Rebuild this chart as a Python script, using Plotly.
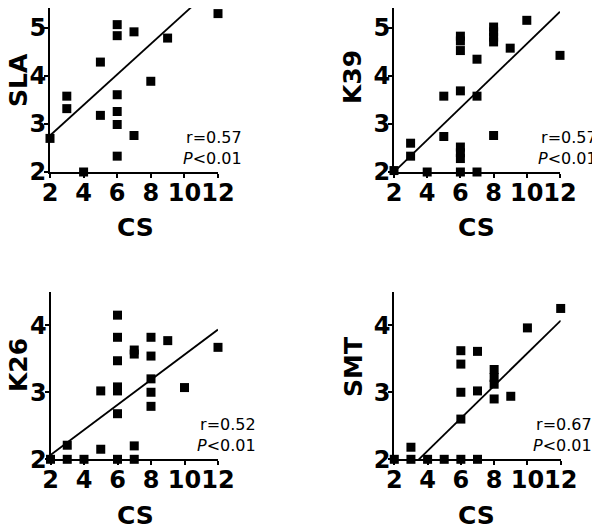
import plotly.graph_objects as go

# ---------------- data ----------------
SLA_x = [2, 3, 3, 4, 5, 5, 6, 6, 6, 6, 6, 6, 6, 7, 7, 8, 8, 8, 9, 10, 12]
SLA_y = [2.70, 3.58, 3.32, 2.00, 4.29, 3.18, 5.49, 5.07, 4.84, 3.61, 3.26, 2.99, 2.33,
         4.92, 2.76, 5.49, 5.43, 3.89, 4.79, 5.49, 5.30]

K39_x = [2, 3, 3, 4, 5, 5, 6, 6, 6, 6, 6, 6, 6, 6, 7, 7, 7, 8, 8, 8, 8, 8, 8, 9, 10, 12]
K39_y = [2.03, 2.60, 2.33, 2.00, 3.58, 2.74, 4.83, 4.73, 4.53, 3.69, 2.52, 2.40, 2.28, 2.00,
         4.35, 3.58, 2.00, 5.49, 5.02, 4.92, 4.81, 4.71, 2.76, 4.58, 5.16, 4.43]

K26_x = [2, 3, 3, 4, 5, 5, 6, 6, 6, 6, 6, 6, 6, 7, 7, 7, 7, 8, 8, 8, 8, 8, 9, 10, 12]
K26_y = [2.00, 2.21, 2.00, 2.00, 3.02, 2.15, 4.15, 3.82, 3.47, 3.08, 3.02, 2.68, 2.00,
         3.63, 3.57, 2.20, 2.00, 3.82, 3.54, 3.20, 3.00, 2.79, 3.77, 3.07, 3.67]

SMT_x = [2, 3, 3, 4, 5, 6, 6, 6, 6, 6, 7, 7, 7, 8, 8, 8, 8, 9, 10, 12]
SMT_y = [2.00, 2.18, 2.00, 2.00, 2.00, 3.62, 3.42, 3.00, 2.60, 2.00, 3.61, 3.02, 2.00,
         3.34, 3.22, 3.12, 2.90, 2.94, 3.96, 4.25]

# regression lines: (slope, intercept)
fit_SLA = (0.318, 2.124)
fit_K39 = (0.334, 1.332)
fit_K26 = (0.187, 1.691)
fit_SMT = (0.243, 1.154)

stats_r = ["r=0.57", "r=0.57", "r=0.52", "r=0.67"]
stats_p = ["<i>P</i>&lt;0.01"] * 4
y_titles = ["SLA", "K39", "K26", "SMT"]
x_title = "CS"
x_ticks = [2, 4, 6, 8, 10, 12]
y_ticks_top = [2, 3, 4, 5]
y_ticks_bottom = [2, 3, 4]
fit_x_span = [2, 12]

# ---------------- layout helpers ----------------
# the page body has an 8px default margin, so the figure is placed at (8, 8)
OFF = 8
W, H = 600 - OFF, 525 - OFF
def px(x):          # page pixel -> paper x
    return (x - OFF) / W
def py(y):          # page pixel -> paper y
    return 1 - (y - OFF) / H

FONT = "DejaVu Sans"
TOP_UNIT = 48.0     # pixels per y unit in the top panels
top_range = [2, 2 + (172 - OFF) / TOP_UNIT]

panels = [
    dict(xs=SLA_x, ys=SLA_y, fit=fit_SLA, xd=(50, 218), yd=(OFF, 172), yr=top_range, yt=y_ticks_top,
         ytitle=(18, 80), xtitle=(135, 228), stat=(243.5, 147.5)),
    dict(xs=K39_x, ys=K39_y, fit=fit_K39, xd=(394, 560), yd=(OFF, 172), yr=top_range, yt=y_ticks_top,
         ytitle=(353, 77), xtitle=(476, 228), stat=(599, 147.5)),
    dict(xs=K26_x, ys=K26_y, fit=fit_K26, xd=(50.5, 218), yd=(291.7, 459.3), yr=[2, 4.5], yt=y_ticks_bottom,
         ytitle=(18, 365), xtitle=(135, 515), stat=(258, 435)),
    dict(xs=SMT_x, ys=SMT_y, fit=fit_SMT, xd=(394.3, 560.7), yd=(291.7, 459.3), yr=[2, 4.5], yt=y_ticks_bottom,
         ytitle=(353, 367), xtitle=(476, 515), stat=(594, 435)),
]

fig = go.Figure()
annotations = []
for i, p in enumerate(panels):
    n = "" if i == 0 else str(i + 1)
    xa, ya = "x" + n, "y" + n
    slope, icpt = p["fit"]
    fig.add_trace(go.Scatter(
        x=fit_x_span, y=[icpt + slope * v for v in fit_x_span], mode="lines",
        line=dict(color="black", width=1.8), xaxis=xa, yaxis=ya,
        showlegend=False, hoverinfo="skip", cliponaxis=True))
    fig.add_trace(go.Scatter(
        x=p["xs"], y=p["ys"], mode="markers",
        marker=dict(symbol="square", size=9, color="black", line=dict(width=0)),
        xaxis=xa, yaxis=ya, showlegend=False, cliponaxis=False))

    common = dict(showline=True, linecolor="black", linewidth=2, ticks="outside",
                  ticklen=4, tickwidth=2, tickcolor="black", showgrid=False, zeroline=False,
                  tickfont=dict(family=FONT, size=24, color="black", weight="bold"),
                  fixedrange=True, automargin=False, tickangle=0)
    fig.update_layout(**{
        ("xaxis" + n): dict(common, domain=[px(p["xd"][0]), px(p["xd"][1])], range=[2, 12],
                            tickvals=x_ticks, anchor=ya, ticklabelstandoff=-6),
        ("yaxis" + n): dict(common, domain=[py(p["yd"][1]), min(1.0, py(p["yd"][0]))], range=p["yr"],
                            tickvals=p["yt"], anchor=xa, ticklabelstandoff=-7),
    })
    annotations.append(dict(text=y_titles[i], x=px(p["ytitle"][0]), y=py(p["ytitle"][1]),
                            xref="paper", yref="paper", showarrow=False, textangle=-90,
                            xanchor="center", yanchor="middle",
                            font=dict(family=FONT, size=25, color="black", weight="bold")))
    annotations.append(dict(text=x_title, x=px(p["xtitle"][0]), y=py(p["xtitle"][1]),
                            xref="paper", yref="paper", showarrow=False,
                            xanchor="center", yanchor="middle",
                            font=dict(family=FONT, size=25, color="black", weight="bold")))
    annotations.append(dict(text=stats_r[i] + "<br>" + stats_p[i], x=px(p["stat"][0]),
                            y=py(p["stat"][1]), xref="paper", yref="paper", showarrow=False,
                            xanchor="right", yanchor="middle", align="right",
                            font=dict(family=FONT, size=16, color="black")))

fig.update_layout(width=W, height=H, autosize=False, margin=dict(l=0, r=0, t=0, b=0),
                  plot_bgcolor="white", paper_bgcolor="white", annotations=annotations)

fig.write_html("out.html")
